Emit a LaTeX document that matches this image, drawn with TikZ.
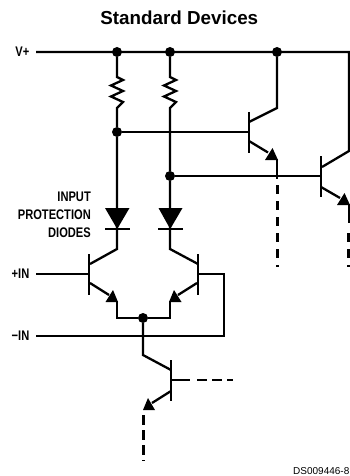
\documentclass[tikz,border=0pt]{standalone}
\usepackage{fontspec}
\setmainfont{Liberation Sans}
\newfontfamily\labfont[FakeStretch=0.8]{Liberation Sans}
\tikzset{
  x=1pt,y=-1pt,
  wire/.style={line width=2.3pt,line cap=butt,line join=miter},
  bar/.style={line width=2.5pt},
  dot/.style={circle,fill=black,inner sep=0pt,minimum size=10pt},
  tip/.style={fill=black,draw=none},
  dashv/.style={line width=2.8pt,dash pattern=on 9pt off 7pt},
  dashs/.style={line width=2.8pt,dash pattern=on 10pt off 5pt},
  lab/.style={font=\labfont\bfseries\fontsize{13.9}{16}\selectfont,inner sep=0pt},
}
\begin{document}
\begin{tikzpicture}
\useasboundingbox (0,0) rectangle (350,476);
% junctions
\node[dot] (j1) at (117,52) {};
\node[dot] (j2) at (170,52) {};
\node[dot] (j3) at (277,52) {};
\node[dot] (j4) at (117,132) {};
\node[dot] (j5) at (170,176) {};
\node[dot] (j6) at (143,318) {};
% free ends
\coordinate (vin) at (36,52);
\coordinate (vend) at (349,52);
\coordinate (q3c) at (349,151);
\coordinate (pin) at (36,274);
\coordinate (nin) at (36,336);
% labels
\node[font=\bfseries\fontsize{18.8}{21}\selectfont,inner sep=0pt] (title) at (179.3,17.5) {Standard Devices};
\node[lab,anchor=east] (lv) at (29.5,52) {V+};
\node[lab,anchor=east] (lp) at (29.5,274) {+IN};
\node[lab,anchor=east] (ln) at (29.5,336) {−IN};
\node[lab,anchor=east] (l1) at (91,197) {INPUT};
\node[lab,anchor=east] (l2) at (91,215) {PROTECTION};
\node[lab,anchor=east] (l3) at (91,233) {DIODES};
\node[font=\fontsize{10}{12}\selectfont,inner sep=0pt,anchor=west] (ds) at (293,471) {DS009446-8};
% supply rail
\draw[wire] (vin) -- (vend) -- (q3c) -- (322,167);
% branches
\draw[wire] (j1) -- (117,77) -- (123,80) -- (111,85.5) -- (123,91) -- (111,96.5) -- (123,102) -- (117,108) -- (j4) -- (117,249) -- (90,264);
\draw[wire] (j2) -- (170,77) -- (176,80) -- (164,85.5) -- (176,91) -- (164,96.5) -- (176,102) -- (170,108) -- (j5) -- (170,249) -- (198,264);
% diodes
\fill[tip] (105,208) -- (129.5,208) -- (117.2,229) -- cycle;
\fill[tip] (158.5,208) -- (182.5,208) -- (170.2,229) -- cycle;
\draw[bar] (105,229) -- (130,229);
\draw[bar] (158,229) -- (183,229);
% Q top left
\draw[wire] (j3) -- (277,108) -- (249,122);
\draw[bar] (249,112) -- (249,153);
\draw[wire] (j4) -- (249,132);
\draw[wire] (249,141) -- (268,152.5);
\fill[tip] (278,160) -- (265,160) -- (272.5,148) -- cycle;
\draw[wire] (277,159) -- (277,179);
\draw[dashv] (277.5,185) -- (277.5,266.5);
% Q top right
\draw[bar] (321,156) -- (321,197);
\draw[wire] (j5) -- (321,176);
\draw[wire] (321,187) -- (340,198);
\fill[tip] (350,205) -- (337,205) -- (344.5,193) -- cycle;
\draw[wire] (349,204) -- (349,223);
\draw[dashv] (348.5,233) -- (348.5,266.5);
% input pair
\draw[bar] (89,254) -- (89,295);
\draw[bar] (198,254) -- (198,295);
\draw[wire] (pin) -- (89,274);
\draw[wire] (90,283) -- (109,295);
\fill[tip] (118,302) -- (105.5,302) -- (113,290) -- cycle;
\draw[wire] (117,301) -- (117,318) -- (j6) -- (170,318) -- (170,301);
\draw[wire] (197,283) -- (178,295);
\fill[tip] (169,302) -- (181.5,302) -- (174,290) -- cycle;
\draw[wire] (198,274) -- (224,274) -- (224,336) -- (nin);
% tail transistor
\draw[wire] (j6) -- (143,355) -- (171,370);
\draw[bar] (171,360) -- (171,401);
\draw[wire] (171,391) -- (152,403);
\fill[tip] (143,410) -- (155,410) -- (148,398) -- cycle;
\draw[wire] (171,380) -- (190,380);
\draw[dashs] (197,380) -- (233,380);
\draw[dashs] (143.5,415) -- (143.5,461);
\end{tikzpicture}
\end{document}
